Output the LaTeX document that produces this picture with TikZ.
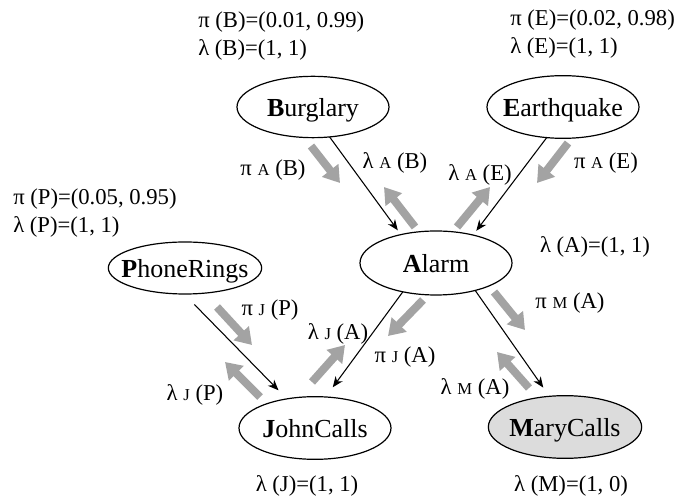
\documentclass[tikz,border=0pt]{standalone}
\usepackage{fontspec}
\setmainfont{Liberation Serif}
\usetikzlibrary{positioning, shapes.geometric, arrows.meta}

\newcommand{\vname}[2]{\makebox[0pt]{\textbf{#1}#2}}
\newcommand{\msub}[1]{{\fontsize{12.5}{12.5}\selectfont #1}}

\tikzset{
  var/.style={ellipse, draw, line width=0.9pt, inner sep=0pt, outer sep=0pt,
    minimum width=114pt, minimum height=46pt, text height=15pt, text depth=0pt,
    font=\fontsize{19.5}{22}\selectfont},
  evid/.style={var, fill={rgb, 255:red, 220; green, 220; blue, 220}},
  link/.style={line width=0.8pt, -{Stealth[length=8pt,width=6.5pt,inset=2.5pt]}},
  msg/.style={line width=6pt, color={rgb, 255:red, 163; green, 163; blue, 163},
    -{Triangle[length=12pt,width=15pt]}},
  lbl/.style={inner sep=0pt, font=\fontsize{17}{21}\selectfont, align=left}
}

\begin{document}
\begin{tikzpicture}[x=0.75pt,y=0.75pt,yscale=-1,xscale=1]
        \useasboundingbox (0,0) rectangle (678,498);

        %Shape: Ellipse
        \node[var] (burglary) at (313,107) {\vname{B}{urglary}};
        %Shape: Ellipse
        \node[var, minimum height=47pt] (earthquake) at (563,107) {\vname{E}{arthquake}};
        %Shape: Ellipse
        \node[var, minimum height=48pt] (alarm) at (436,263) {\vname{A}{larm}};
        %Shape: Ellipse
        \node[var, minimum width=115pt, minimum height=39pt] (phonerings) at (185,268) {\vname{P}{honeRings}};
        %Shape: Ellipse
        \node[var, minimum height=47pt] (johncalls) at (315,428) {\vname{J}{ohnCalls}};
        %Shape: Ellipse
        \node[evid, minimum width=115pt, minimum height=47pt] (marycalls) at (565,427) {\vname{M}{aryCalls}};

        %Straight Lines
        \draw[link, shorten >=4pt] (burglary.-61) -- (alarm.141);
        %Straight Lines
        \draw[link, shorten >=4pt] (earthquake.-118) -- (alarm.37);
        %Straight Lines
        \draw[link, shorten >=9pt] (alarm.221) -- (johncalls.71);
        %Straight Lines
        \draw[link, shorten >=8pt] (alarm.-35) -- (marycalls.117);
        %Straight Lines
        \draw[link, shorten <=11pt, shorten >=9pt] (phonerings.-92) -- (johncalls.134);

        %Thick Arrows
        \coordinate (piAB0) at (311,146); \coordinate (piAB1) at (340,183);
        \coordinate (laAB0) at (415,227); \coordinate (laAB1) at (384,187);
        \coordinate (laAE0) at (457,227); \coordinate (laAE1) at (490,187);
        \coordinate (piAE0) at (568,143); \coordinate (piAE1) at (537,183);
        \coordinate (piJP0) at (217,307); \coordinate (piJP1) at (252,345);
        \coordinate (laJP0) at (260,397); \coordinate (laJP1) at (225,362);
        \coordinate (laJA0) at (312,382); \coordinate (laJA1) at (345,345);
        \coordinate (piJA0) at (423,300); \coordinate (piJA1) at (388,336);
        \coordinate (piMA0) at (494,292); \coordinate (piMA1) at (525,330);
        \coordinate (laMA0) at (529,388); \coordinate (laMA1) at (497,352);
        \draw[msg] (piAB0) -- (piAB1);
        \draw[msg] (laAB0) -- (laAB1);
        \draw[msg] (laAE0) -- (laAE1);
        \draw[msg] (piAE0) -- (piAE1);
        \draw[msg] (piJP0) -- (piJP1);
        \draw[msg] (laJP0) -- (laJP1);
        \draw[msg] (laJA0) -- (laJA1);
        \draw[msg] (piJA0) -- (piJA1);
        \draw[msg] (piMA0) -- (piMA1);
        \draw[msg] (laMA0) -- (laMA1);

        % Text Node
        \node[lbl, anchor=west] (parB) at (198,36) {π (B)=(0.01, 0.99)\\λ (B)=(1, 1)};
        % Text Node
        \node[lbl, anchor=west] (parE) at (510,34) {π (E)=(0.02, 0.98)\\λ (E)=(1, 1)};
        % Text Node
        \node[lbl, anchor=west] (parP) at (13,213) {π (P)=(0.05, 0.95)\\λ (P)=(1, 1)};
        % Text Node
        \node[lbl] (parA) at (595,247) {λ (A)=(1, 1)};
        % Text Node
        \node[lbl] (parJ) at (307,486) {λ (J)=(1, 1)};
        % Text Node
        \node[lbl] (parM) at (571,486) {λ (M)=(1, 0)};

        % Text Node
        \node[lbl] (piAB) at (273,170) {π \msub{A} (B)};
        % Text Node
        \node[lbl] (laAB) at (395,163) {λ \msub{A} (B)};
        % Text Node
        \node[lbl] (laAE) at (480,175) {λ \msub{A} (E)};
        % Text Node
        \node[lbl] (piAE) at (606,163) {π \msub{A} (E)};
        % Text Node
        \node[lbl] (piJP) at (270,310) {π \msub{J} (P)};
        % Text Node
        \node[lbl] (laJP) at (195,395) {λ \msub{J} (P)};
        % Text Node
        \node[lbl] (laJA) at (338,334) {λ \msub{J} (A)};
        % Text Node
        \node[lbl] (piJA) at (405,357) {π \msub{J} (A)};
        % Text Node
        \node[lbl] (piMA) at (570,303) {π \msub{M} (A)};
        % Text Node
        \node[lbl] (laMA) at (475,389) {λ \msub{M} (A)};

\end{tikzpicture}
\end{document}
